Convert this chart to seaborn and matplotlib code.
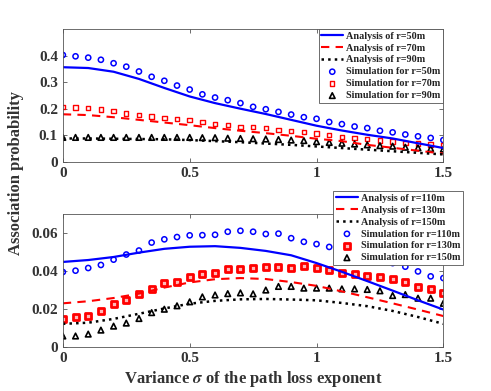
import numpy as np
import seaborn as sns
import matplotlib
matplotlib.use('Agg')
import matplotlib.pyplot as plt

# sigma grid for simulation points and for analysis curves
sigma_sim = [round(0.05 * i, 2) for i in range(31)]
sigma_ana = [round(0.1 * i, 1) for i in range(16)]

# top panel: r = 50, 70, 90 m
ana_50 = [0.356, 0.353, 0.339, 0.312, 0.278, 0.246, 0.221, 0.200, 0.180, 0.158,
          0.136, 0.118, 0.102, 0.088, 0.070, 0.052]
ana_70 = [0.179, 0.176, 0.168, 0.158, 0.148, 0.138, 0.127, 0.117, 0.108, 0.098,
          0.087, 0.078, 0.064, 0.053, 0.042, 0.031]
ana_90 = [0.088, 0.088, 0.087, 0.086, 0.085, 0.082, 0.078, 0.074, 0.069, 0.064,
          0.058, 0.052, 0.046, 0.040, 0.034, 0.028]
sim_50 = [0.402, 0.397, 0.392, 0.384, 0.371, 0.358, 0.340, 0.320, 0.305, 0.287,
          0.272, 0.254, 0.242, 0.232, 0.221, 0.207, 0.198, 0.188, 0.178, 0.168,
          0.162, 0.150, 0.142, 0.133, 0.127, 0.117, 0.111, 0.103, 0.096, 0.090, 0.082]
sim_70 = [0.207, 0.204, 0.202, 0.197, 0.192, 0.182, 0.176, 0.171, 0.164, 0.161,
          0.157, 0.150, 0.143, 0.138, 0.132, 0.132, 0.127, 0.120, 0.116, 0.113,
          0.107, 0.100, 0.094, 0.090, 0.085, 0.080, 0.076, 0.070, 0.069, 0.065, 0.061]
sim_90 = [0.092, 0.092, 0.092, 0.092, 0.092, 0.092, 0.092, 0.092, 0.092, 0.092,
          0.092, 0.091, 0.091, 0.089, 0.088, 0.087, 0.086, 0.084, 0.082, 0.080,
          0.076, 0.073, 0.070, 0.067, 0.064, 0.061, 0.059, 0.055, 0.053, 0.050, 0.048]

# bottom panel: r = 110, 130, 150 m
ana_110 = [0.0448, 0.0458, 0.0474, 0.0497, 0.0517, 0.0528, 0.0531, 0.0522, 0.0506, 0.0483,
           0.0442, 0.0396, 0.0347, 0.0297, 0.0246, 0.0197]
ana_130 = [0.0230, 0.0241, 0.0258, 0.0281, 0.0313, 0.0340, 0.0357, 0.0363, 0.0358, 0.0342,
           0.0322, 0.0293, 0.0262, 0.0230, 0.0197, 0.0163]
ana_150 = [0.0122, 0.0128, 0.0148, 0.0175, 0.0203, 0.0228, 0.0243, 0.0251, 0.0253, 0.0250,
           0.0246, 0.0232, 0.0215, 0.0190, 0.0158, 0.0122]
sim_110 = [0.0395, 0.0402, 0.0416, 0.0432, 0.0460, 0.0487, 0.0508, 0.0550, 0.0567, 0.0579,
           0.0588, 0.0589, 0.0591, 0.0607, 0.0612, 0.0607, 0.0595, 0.0597, 0.0573, 0.0554,
           0.0542, 0.0527, 0.0519, 0.0500, 0.0480, 0.0460, 0.0442, 0.0423, 0.0398, 0.0372, 0.0363]
sim_130 = [0.0150, 0.0159, 0.0165, 0.0192, 0.0226, 0.0248, 0.0278, 0.0306, 0.0336, 0.0340,
           0.0368, 0.0383, 0.0392, 0.0410, 0.0411, 0.0416, 0.0420, 0.0422, 0.0415, 0.0426,
           0.0415, 0.0404, 0.0390, 0.0386, 0.0372, 0.0368, 0.0356, 0.0343, 0.0317, 0.0303, 0.0283]
sim_150 = [0.0058, 0.0058, 0.0068, 0.0089, 0.0110, 0.0126, 0.0150, 0.0181, 0.0199, 0.0217,
           0.0238, 0.0264, 0.0274, 0.0281, 0.0285, 0.0280, 0.0300, 0.0319, 0.0319, 0.0310,
           0.0310, 0.0310, 0.0306, 0.0306, 0.0303, 0.0296, 0.0271, 0.0276, 0.0257, 0.0257, 0.0230]

sns.set_style('ticks', {'xtick.direction': 'in', 'ytick.direction': 'in'})
plt.rcParams['font.family'] = ['Liberation Serif', 'DejaVu Serif']
plt.rcParams['font.weight'] = 'bold'
plt.rcParams['mathtext.fontset'] = 'stix'

fig = plt.figure(figsize=(4.91, 3.91), dpi=100)
ax1 = fig.add_axes([0.128, 0.586, 0.775, 0.340])
ax2 = fig.add_axes([0.128, 0.1125, 0.775, 0.340])


def draw_panel(ax, ana, sim, radii, sq_filled):
    sns.lineplot(x=sigma_ana, y=ana[0], ax=ax, color='blue', linewidth=1.6,
                 label=f'Analysis of r={radii[0]}m')
    sns.lineplot(x=sigma_ana, y=ana[1], ax=ax, color='red', linewidth=1.5,
                 dashes=(4, 3), label=f'Analysis of r={radii[1]}m')
    sns.lineplot(x=sigma_ana, y=ana[2], ax=ax, color='black', linewidth=1.8,
                 linestyle=':', label=f'Analysis of r={radii[2]}m')
    sns.scatterplot(x=sigma_sim, y=sim[0], ax=ax, marker='o', s=14,
                    facecolor='none', edgecolor='blue', linewidth=1.1,
                    label=f'Simulation for r={radii[0]}m')
    if sq_filled:
        sns.scatterplot(x=sigma_sim, y=sim[1], ax=ax, marker='s', s=16,
                        facecolor='#ffb8b8', edgecolor='red', linewidth=2.0,
                        label=f'Simulation for r={radii[1]}m')
    else:
        sns.scatterplot(x=sigma_sim, y=sim[1], ax=ax, marker='s', s=10,
                        facecolor='none', edgecolor='red', linewidth=1.0,
                        label=f'Simulation for r={radii[1]}m')
    sns.scatterplot(x=sigma_sim, y=sim[2], ax=ax, marker='^', s=16,
                    facecolor='none', edgecolor='black', linewidth=1.2,
                    label=f'Simulation for r={radii[2]}m')
    ax.set_xlim(0, 1.5)
    ax.set_xticks([0, 0.5, 1, 1.5])
    ax.set_xticklabels(['0', '0.5', '1', '1.5'])
    ax.tick_params(top=True, right=True, direction='in', labelsize=11,
                   length=3, width=0.6, color='#555555')
    for s in ax.spines.values():
        s.set_linewidth(0.6)
        s.set_color('#555555')
    ax.set_xlabel('')
    ax.set_ylabel('')


def add_legend(ax, anchor):
    leg = ax.legend(loc='upper right', bbox_to_anchor=anchor, borderaxespad=0,
                    fontsize=7.3, handlelength=2.2, labelspacing=0.28, handletextpad=0.3,
                    borderpad=0.25, fancybox=False, framealpha=1, edgecolor='#555555')
    leg.get_frame().set_linewidth(0.6)
    for t in leg.get_texts():
        t.set_color('#222222')


draw_panel(ax1, [ana_50, ana_70, ana_90], [sim_50, sim_70, sim_90], [50, 70, 90], False)
ax1.set_ylim(0, 0.5)
ax1.set_yticks([0, 0.1, 0.2, 0.3, 0.4])
ax1.set_yticklabels(['0', '0.1', '0.2', '0.3', '0.4'])
add_legend(ax1, (1.0, 1.0))

draw_panel(ax2, [ana_110, ana_130, ana_150], [sim_110, sim_130, sim_150], [110, 130, 150], True)
ax2.set_ylim(0, 0.07)
ax2.set_yticks([0, 0.02, 0.04, 0.06])
ax2.set_yticklabels(['0', '0.02', '0.04', '0.06'])
add_legend(ax2, (1.052, 1.173))

ax2.set_xlabel(r'Variance $\sigma$ of the path loss exponent', fontsize=12,
               fontweight='bold', color='#333333', labelpad=3)
fig.text(0.032, 0.557, 'Association probability', rotation=90, fontsize=12,
         fontweight='bold', color='#333333', ha='center', va='center')

for ax in (ax1, ax2):
    for lab in ax.get_xticklabels() + ax.get_yticklabels():
        lab.set_fontweight('bold')
        lab.set_color('#333333')

fig.savefig('out.png', dpi=100)
